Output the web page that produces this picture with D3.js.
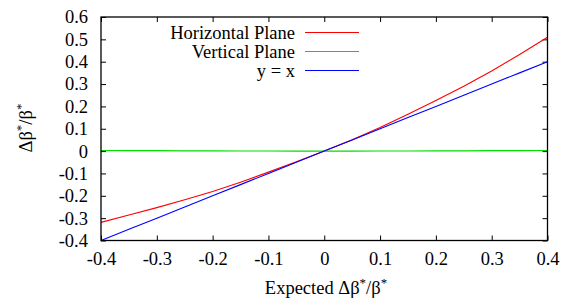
<!DOCTYPE html>
<html><head><meta charset="utf-8">
<script src="https://cdn.jsdelivr.net/npm/d3@7"></script>
<style>body{margin:0;background:#fff}</style>
</head><body><svg id="c" width="563" height="300" font-family="Liberation Serif"></svg>
<script>
const xs = [-0.4,-0.35,-0.3,-0.25,-0.2,-0.15,-0.1,-0.05,0,0.05,0.1,0.15,0.2,0.25,0.3,0.35,0.4];
const horizontal = [-0.319,-0.286,-0.253,-0.218,-0.181,-0.139,-0.094,-0.048,0,0.051,0.106,0.165,0.226,0.290,0.358,0.432,0.509];
const vertical = [0.003,0.002,0.002,0.001,0.001,0.0005,0.0003,0.0001,0,0.0001,0.0003,0.0005,0.001,0.001,0.002,0.002,0.003];
const identity = [-0.4,-0.35,-0.3,-0.25,-0.2,-0.15,-0.1,-0.05,0,0.05,0.1,0.15,0.2,0.25,0.3,0.35,0.4];
const xTicks = [-0.4,-0.3,-0.2,-0.1,0,0.1,0.2,0.3,0.4];
const yTicks = [-0.4,-0.3,-0.2,-0.1,0,0.1,0.2,0.3,0.4,0.5,0.6];
const seriesNames = ["Horizontal Plane","Vertical Plane","y = x"];
const seriesColors = ["#ff0000","#00dd00","#0000ff"];

const FONT = "Liberation Serif";
const FS = 18.5;
const L=101, R=547.5, T=17, B=240.5;
const svg = d3.select("#c");
const x = d3.scaleLinear().domain([-0.4,0.4]).range([L,R]);
const y = d3.scaleLinear().domain([-0.4,0.6]).range([B,T]);
const fmt = d => d===0 ? "0" : d3.format(".1f")(d).replace("\u2212","-");
const tl = 5;

const gx = svg.append("g").attr("transform",`translate(0,${B})`)
  .call(d3.axisBottom(x).tickValues(xTicks).tickFormat(fmt).tickSizeInner(-tl).tickSizeOuter(0).tickPadding(11));
const gxt = svg.append("g").attr("transform",`translate(0,${T})`)
  .call(d3.axisTop(x).tickValues(xTicks).tickFormat("").tickSizeInner(-tl).tickSizeOuter(0));
const gy = svg.append("g").attr("transform",`translate(${L},0)`)
  .call(d3.axisLeft(y).tickValues(yTicks).tickFormat(fmt).tickSizeInner(-tl).tickSizeOuter(0).tickPadding(13));
const gyr = svg.append("g").attr("transform",`translate(${R},0)`)
  .call(d3.axisRight(y).tickValues(yTicks).tickFormat("").tickSizeInner(-tl).tickSizeOuter(0));
[gx,gxt,gy,gyr].forEach(g=>{
  g.attr("font-family",FONT).attr("font-size",FS);
  g.select(".domain").remove();
  g.selectAll("line").attr("stroke","#000");
  g.selectAll("text").attr("font-family",FONT).attr("font-size",FS).attr("fill","#000");
});
gx.selectAll("text").attr("dy","0.71em");

const line = d3.line().x((d,i)=>x(xs[i])).y(d=>y(d));
const data = [horizontal, vertical, identity];
data.forEach((s,k)=>{
  svg.append("path").datum(s).attr("d",line).attr("fill","none")
    .attr("stroke",seriesColors[k]).attr("stroke-width",1.1);
});

svg.append("rect").attr("x",L).attr("y",T).attr("width",R-L).attr("height",B-T)
  .attr("fill","none").attr("stroke","#000").attr("stroke-width",1.3);

seriesNames.forEach((n,k)=>{
  const yy = 32.5 + k*19;
  svg.append("text").attr("x",295).attr("y",yy).attr("dy","0.33em").attr("text-anchor","end")
    .attr("font-family",FONT).attr("font-size",FS).text(n);
  svg.append("line").attr("x1",305).attr("x2",359).attr("y1",yy).attr("y2",yy)
    .attr("stroke",seriesColors[k]).attr("stroke-width",1.1);
});

function title(sel, pre){
  sel.append("tspan").text(pre);
  sel.append("tspan").attr("dy",-7).attr("font-size",13).text("*");
  sel.append("tspan").attr("dy",7).text("/β");
  sel.append("tspan").attr("dy",-7).attr("font-size",13).text("*");
}
const xt = svg.append("text").attr("x",326).attr("y",294).attr("text-anchor","middle")
  .attr("font-family",FONT).attr("font-size",FS);
title(xt, "Expected Δβ");
const yt = svg.append("text").attr("transform","translate(32,128) rotate(-90)").attr("text-anchor","middle")
  .attr("font-family",FONT).attr("font-size",FS);
title(yt, "Δβ");
</script></body></html>
